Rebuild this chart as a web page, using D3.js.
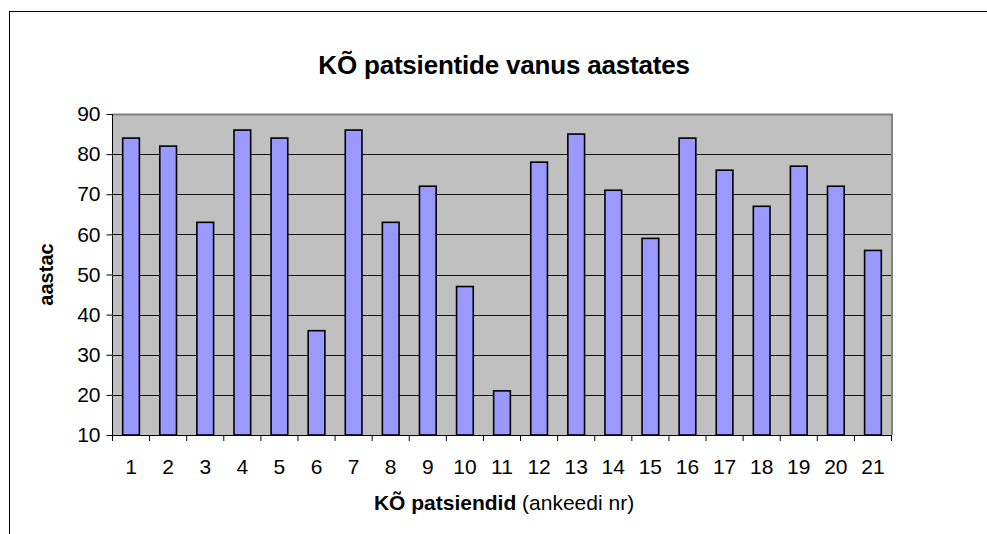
<!DOCTYPE html>
<html>
<head>
<meta charset="utf-8">
<script src="https://cdn.jsdelivr.net/npm/d3@7"></script>
<style>
  body { margin: 0; background: #fff; }
  text { font-family: Arial, "Liberation Sans", sans-serif; fill: #000; }
</style>
</head>
<body>
<div id="chart"></div>
<script>
var categories = ["1", "2", "3", "4", "5", "6", "7", "8", "9", "10", "11",
                  "12", "13", "14", "15", "16", "17", "18", "19", "20", "21"]
var ages = [84, 82, 63, 86, 84, 36, 86, 63, 72, 47, 21,
            78, 85, 71, 59, 84, 76, 67, 77, 72, 56]
var yTicks = [10, 20, 30, 40, 50, 60, 70, 80, 90]
var yDomain = [10, 90]

var titleText = "KÕ patsientide vanus aastates",
    yTitleText = "aastac",
    xTitleBold = "KÕ patsiendid",
    xTitleRest = " (ankeedi nr)"

var W = 987, H = 534,
    plot = { left: 112.5, top: 114, right: 891.5, bottom: 435 }

var svg = d3.select("#chart").append("svg")
    .attr("width", W)
    .attr("height", H)

// chart frame (only top and left edges are inside the picture)
svg.append("rect")
    .attr("x", 9.5).attr("y", 11.5)
    .attr("width", W + 20).attr("height", H + 20)
    .style("fill", "#fff")
    .style("stroke", "#000")
    .style("stroke-width", 1)

var x = d3.scaleBand()
    .domain(categories)
    .range([plot.left, plot.right])
    .paddingInner(0.55)
    .paddingOuter(0.275)

var xEdges = d3.scaleBand()
    .domain(categories)
    .range([plot.left, plot.right])

var y = d3.scaleLinear()
    .domain(yDomain)
    .range([plot.bottom, plot.top])

// plot background
svg.append("rect")
    .attr("x", plot.left).attr("y", plot.top)
    .attr("width", plot.right - plot.left)
    .attr("height", plot.bottom - plot.top)
    .style("fill", "#c0c0c0")

// gridlines
svg.append("g")
    .selectAll("line")
    .data(yTicks.filter(d => d > yDomain[0] && d < yDomain[1]))
    .join("line")
    .attr("x1", plot.left).attr("x2", plot.right)
    .attr("y1", d => Math.round(y(d)) + 0.5)
    .attr("y2", d => Math.round(y(d)) + 0.5)
    .style("stroke", "#111")
    .style("stroke-width", 1)

// gray top/right border of plot area
svg.append("path")
    .attr("d", "M" + plot.left + "," + (plot.top + 0.5) + "H" + (plot.right + 0.5) + "V" + plot.bottom)
    .style("fill", "none")
    .style("stroke", "#808080")
    .style("stroke-width", 2)

// bars
svg.append("g")
    .selectAll("rect")
    .data(ages)
    .join("rect")
    .attr("x", (d, i) => x(categories[i]))
    .attr("y", d => y(d))
    .attr("width", x.bandwidth())
    .attr("height", d => y(yDomain[0]) - y(d))
    .style("fill", "#9999ff")
    .style("stroke", "#000")
    .style("stroke-width", 1.6)

// y axis
var yAxis = svg.append("g")
    .attr("transform", "translate(" + plot.left + ",0)")
    .call(d3.axisLeft(y).tickValues(yTicks).tickSize(6).tickPadding(6).tickFormat(d3.format("d")))
yAxis.select(".domain").attr("d", "M0," + plot.top + "V" + plot.bottom).style("stroke", "#000")
yAxis.selectAll(".tick line").style("stroke", "#000")
yAxis.selectAll("text")
    .style("font-size", "21px")
    .style("font-family", "Arial, 'Liberation Sans', sans-serif")
    .attr("fill", "#000")

// x axis: ticks at category edges, labels centred
var xAxis = svg.append("g")
    .attr("transform", "translate(0," + plot.bottom + ")")
xAxis.append("line")
    .attr("x1", plot.left).attr("x2", plot.right)
    .attr("y1", 0.5).attr("y2", 0.5)
    .style("stroke", "#000")
xAxis.selectAll("line.edge")
    .data(categories.concat(["end"]))
    .join("line")
    .attr("class", "edge")
    .attr("x1", (d, i) => i < categories.length ? xEdges(d) : plot.right)
    .attr("x2", (d, i) => i < categories.length ? xEdges(d) : plot.right)
    .attr("y1", 0).attr("y2", 6)
    .style("stroke", "#000")
xAxis.selectAll("text")
    .data(categories)
    .join("text")
    .attr("x", d => xEdges(d) + xEdges.bandwidth() / 2)
    .attr("y", 38.5)
    .attr("text-anchor", "middle")
    .style("font-size", "21px")
    .text(d => d)

// title
svg.append("text")
    .attr("x", 504)
    .attr("y", 74)
    .attr("text-anchor", "middle")
    .style("font-size", "26px")
    .style("font-weight", "bold")
    .style("letter-spacing", "-0.2px")
    .text(titleText)

// y axis title
svg.append("text")
    .attr("transform", "translate(53," + ((plot.top + plot.bottom) / 2) + ") rotate(-90)")
    .attr("text-anchor", "middle")
    .style("font-size", "20px")
    .style("font-weight", "bold")
    .text(yTitleText)

// x axis title
var xt = svg.append("text")
    .attr("x", 504)
    .attr("y", 510)
    .attr("text-anchor", "middle")
    .style("font-size", "21px")
xt.append("tspan").style("font-weight", "bold").text(xTitleBold)
xt.append("tspan").text(xTitleRest)
</script>
</body>
</html>
